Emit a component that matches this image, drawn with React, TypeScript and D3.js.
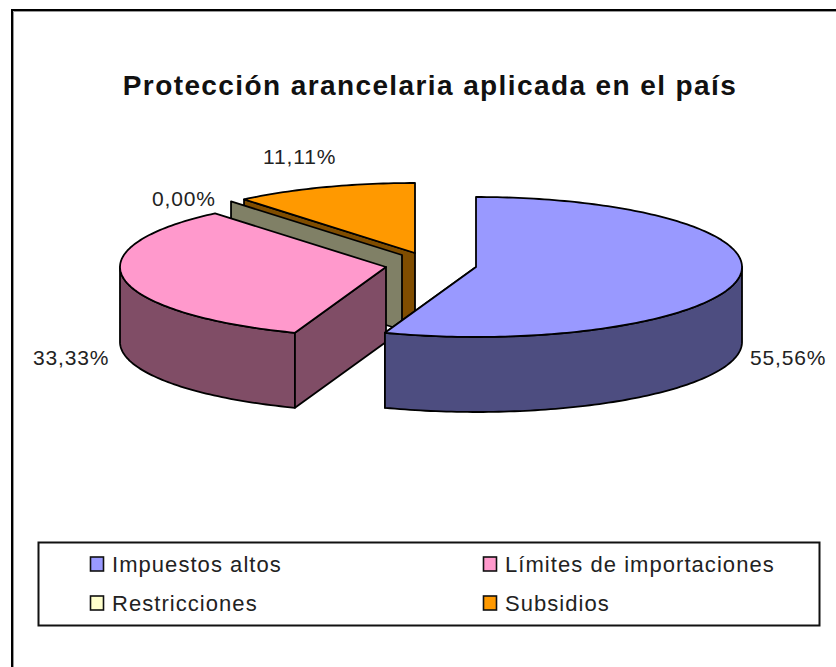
import React from "react";
import * as d3 from "d3";

const categories = ["Impuestos altos", "Límites de importaciones", "Restricciones", "Subsidios"];
const shares = [55.56, 33.33, 0, 11.11];
const valueLabels = ["55,56%", "33,33%", "0,00%", "11,11%"];
const topColors = ["#9999FF", "#FF99CC", "#FFFFCC", "#FF9900"];
const wallColors = ["#4D4D80", "#804D66", "#808066", "#804D00"];
const sliceCenters: [number, number][] = [[476, 267], [386, 267], [402, 255], [415, 253]];
const chartTitle = "Protección arancelaria aplicada en el país";

const W = 836, H = 667;
const RX = 266, RY = 70, DEPTH = 75;
const FONT = "'Liberation Sans', Arial, sans-serif";
const INK = "#222";

const arcs = d3.pie<number>().value((d) => d).sort(null)(shares);

function point(c: [number, number], a: number, dy = 0): [number, number] {
  return [c[0] + RX * Math.sin(a), c[1] - RY * Math.cos(a) + dy];
}
function rimPoints(c: [number, number], a0: number, a1: number, dy = 0) {
  const n = Math.max(1, Math.ceil(Math.abs(a1 - a0) / 0.02));
  return d3.range(n + 1).map((i) => point(c, a0 + ((a1 - a0) * i) / n, dy));
}
const line = d3.line();
const polyPath = (pts: [number, number][]) => line(pts) + "Z";

function topPath(i: number) {
  const c = sliceCenters[i];
  return polyPath([c, ...rimPoints(c, arcs[i].startAngle, arcs[i].endAngle)]);
}
function radialWall(i: number, a: number) {
  const c = sliceCenters[i];
  const p = point(c, a);
  return polyPath([c, p, [p[0], p[1] + DEPTH], [c[0], c[1] + DEPTH]]);
}
function rimWall(i: number) {
  const c = sliceCenters[i];
  const a0 = Math.max(arcs[i].startAngle, Math.PI / 2);
  const a1 = Math.min(arcs[i].endAngle, (3 * Math.PI) / 2);
  if (a1 <= a0) return null;
  const top = rimPoints(c, a0, a1);
  const bot = rimPoints(c, a1, a0, DEPTH);
  return polyPath([...top, ...bot]);
}

const legendRows = [
  { i: 0, x: 90, y: 564 },
  { i: 1, x: 483, y: 564 },
  { i: 2, x: 90, y: 603 },
  { i: 3, x: 483, y: 603 },
];
const labelPos = [
  { x: 750, y: 365, anchor: "start" },
  { x: 33, y: 365, anchor: "start" },
  { x: 152, y: 206, anchor: "start" },
  { x: 263, y: 164, anchor: "start" },
];

export default function App() {
  const stroke = { stroke: "#000", strokeWidth: 1.8, strokeLinejoin: "round" as const };
  return (
    <svg width={W} height={H} viewBox={`0 0 ${W} ${H}`} style={{ position: "fixed", left: 0, top: 0, background: "#fff" }}>
      <path d="M13.5 667V11.5H836" fill="none" stroke="#999" strokeWidth={1} />
      <path d="M12 667V10H836" fill="none" stroke="#000" strokeWidth={2} />
      <text x={430} y={95} textAnchor="middle" fontFamily={FONT} fontWeight="bold" fontSize={28} letterSpacing={1.4} fill="#111">{chartTitle}</text>

      {/* Subsidios */}
      <path d={radialWall(3, arcs[3].startAngle)} fill={wallColors[3]} {...stroke} />
      <path d={topPath(3)} fill={topColors[3]} {...stroke} />
      {/* Restricciones: a zero-size slice shows only its wall */}
      <path d={radialWall(2, arcs[2].startAngle)} fill={wallColors[2]} {...stroke} />
      {/* Límites */}
      <path d={rimWall(1) ?? ""} fill={wallColors[1]} {...stroke} />
      <path d={radialWall(1, arcs[1].startAngle)} fill={wallColors[1]} {...stroke} />
      <path d={topPath(1)} fill={topColors[1]} {...stroke} />
      {/* Impuestos */}
      <path d={radialWall(0, arcs[0].endAngle)} fill={wallColors[0]} {...stroke} />
      <path d={rimWall(0) ?? ""} fill={wallColors[0]} {...stroke} />
      <path d={topPath(0)} fill={topColors[0]} {...stroke} />

      {valueLabels.map((t, i) => (
        <text key={t} x={labelPos[i].x} y={labelPos[i].y} textAnchor={labelPos[i].anchor as "start"} fontFamily={FONT} fontSize={21} letterSpacing={0.85} fill={INK}>{t}</text>
      ))}

      <rect x={38.5} y={542.5} width={781} height={83} fill="#fff" stroke="#111" strokeWidth={2} />
      {legendRows.map(({ i, x, y }) => (
        <g key={i}>
          <rect x={x + 0.5} y={y - 7} width={13} height={14} fill={topColors[i]} stroke="#111" strokeWidth={1.6} />
          <text x={x + 22} y={y + 8} fontFamily={FONT} fontSize={22} letterSpacing={1.05} fill={INK}>{categories[i]}</text>
        </g>
      ))}
    </svg>
  );
}
